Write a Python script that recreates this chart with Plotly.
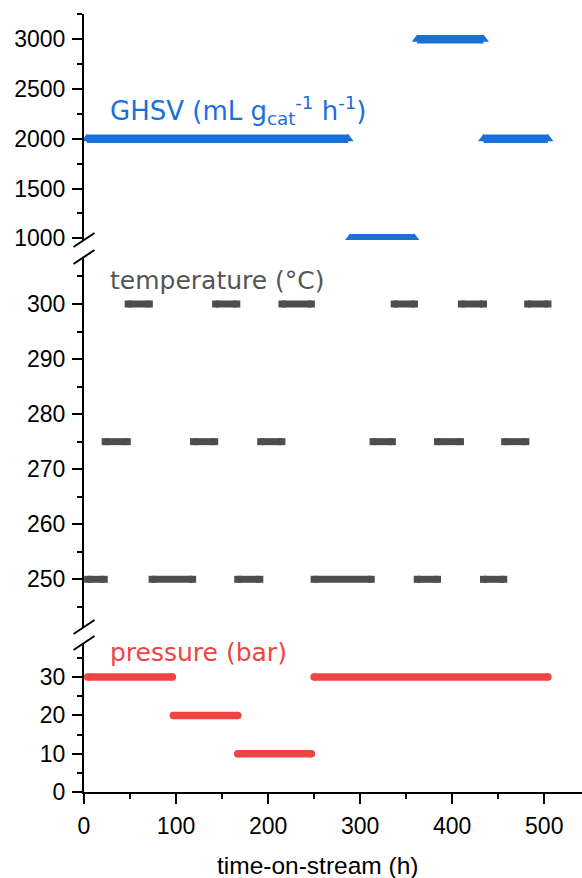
import plotly.graph_objects as go

# Operating schedule of the catalytic run: each step is (start h, end h, set-point)
ghsv_start = [3, 289, 362, 434]
ghsv_end = [287, 359, 434, 504]
ghsv_value = [2000, 1000, 3000, 2000]

temp_start = [4, 23, 48, 74, 119, 143, 167, 192, 215, 250, 314, 337, 362, 384, 410, 434, 457, 482]
temp_end = [22, 47, 71, 118, 142, 166, 191, 215, 247, 312, 335, 359, 384, 409, 434, 456, 480, 504]
temp_value = [250, 275, 300, 250, 275, 300, 250, 275, 300, 250, 275, 300, 250, 275, 300, 250, 275, 300]

pressure_start = [4, 97, 167, 250]
pressure_end = [96, 167, 247, 504]
pressure_value = [30, 20, 10, 30]

x_ticks = [0, 100, 200, 300, 400, 500]
pressure_ticks = [0, 10, 20, 30]
temp_ticks = [250, 260, 270, 280, 290, 300]
ghsv_ticks = [1000, 1500, 2000, 2500, 3000]

BLUE = "#1b6fda"
GRAY = "#4d4d4d"
RED = "#ef4444"
TICK_FONT = dict(family="Liberation Sans", size=23, color="black")
LABEL_FONT = "DejaVu Sans"


def steps(starts, ends, values):
    """Turn step lists into one broken polyline (None separates steps)."""
    xs, ys = [], []
    for s, e, v in zip(starts, ends, values):
        xs += [s, e, None]
        ys += [v, v, None]
    return xs, ys


fig = go.Figure()

gx, gy = steps(ghsv_start, ghsv_end, ghsv_value)
fig.add_trace(go.Scatter(
    x=gx, y=gy, xaxis="x", yaxis="y3", mode="lines+markers",
    line=dict(color=BLUE, width=8.5),
    marker=dict(symbol="triangle-up", size=9.5, color=BLUE, line=dict(width=0)),
    hoverinfo="skip", showlegend=False,
))

tx, ty = steps(temp_start, temp_end, temp_value)
fig.add_trace(go.Scatter(
    x=tx, y=ty, xaxis="x", yaxis="y2", mode="lines+markers",
    line=dict(color=GRAY, width=7),
    marker=dict(symbol="square", size=7, color=GRAY, line=dict(width=0)),
    hoverinfo="skip", showlegend=False,
))

px_, py_ = steps(pressure_start, pressure_end, pressure_value)
fig.add_trace(go.Scatter(
    x=px_, y=py_, xaxis="x", yaxis="y", mode="lines+markers",
    line=dict(color=RED, width=7.5),
    marker=dict(symbol="circle", size=7.5, color=RED, line=dict(width=0)),
    hoverinfo="skip", showlegend=False,
))

axis_style = dict(
    showline=True, linecolor="black", linewidth=2,
    ticks="outside", ticklen=10, tickwidth=2, tickcolor="black",
    showgrid=False, zeroline=False, tickfont=TICK_FONT,
)


def minor(step):
    return dict(dtick=step, ticks="outside", ticklen=5, tickwidth=2, tickcolor="black", showgrid=False)


fig.update_layout(
    width=582, height=878,
    margin=dict(l=84, r=0, t=14, b=86),
    paper_bgcolor="white", plot_bgcolor="white",
    xaxis=dict(domain=[0, 1], range=[0, 541], anchor="y", tickvals=x_ticks,
               minor=minor(50), ticklabelstandoff=2, **axis_style),
    yaxis=dict(domain=[0, 0.1915], range=[0, 38.9], anchor="x", tickvals=pressure_ticks,
               minor=minor(5), ticklabelstandoff=2, **axis_style),
    yaxis2=dict(domain=[0.2121, 0.6877], range=[241.34, 308.54], anchor="x", tickvals=temp_ticks,
                minor=minor(5), ticklabelstandoff=2, **axis_style),
    yaxis3=dict(domain=[0.7095, 1], range=[983, 3254], anchor="x", tickvals=ghsv_ticks,
                minor=minor(250), ticklabelstandoff=2, **axis_style),
)

# Axis-break marks at the ends of each broken y-axis segment
breaks = [("y3 domain", 0), ("y2 domain", 1), ("y2 domain", 0), ("y domain", 1)]
for yref, anchor in breaks:
    fig.add_shape(
        type="line", xref="paper", yref=yref,
        xsizemode="pixel", xanchor=0, x0=-10.5, x1=10.5,
        ysizemode="pixel", yanchor=anchor, y0=-7, y1=7,
        line=dict(color="black", width=2),
    )

fig.add_annotation(
    x=25.6, y=2286, xref="x", yref="y3", xanchor="left", yanchor="middle",
    text="GHSV (mL g<sub>cat</sub><sup>-1</sup> h<sup>-1</sup>)", showarrow=False,
    font=dict(family=LABEL_FONT, size=26, color=BLUE),
)
fig.add_annotation(
    x=26.6, y=304.3, xref="x", yref="y2", xanchor="left", yanchor="middle",
    text="temperature (°C)", showarrow=False,
    font=dict(family=LABEL_FONT, size=25, color="#555555"),
)
fig.add_annotation(
    x=26.6, y=36.4, xref="x", yref="y", xanchor="left", yanchor="middle",
    text="pressure (bar)", showarrow=False,
    font=dict(family=LABEL_FONT, size=25, color=RED),
)
fig.add_annotation(
    x=254, y=-0.0945, xref="x", yref="paper", xanchor="center", yanchor="middle",
    text="time-on-stream (h)", showarrow=False,
    font=dict(family="Liberation Sans", size=24.5, color="black"),
)

fig.write_html("out.html")
